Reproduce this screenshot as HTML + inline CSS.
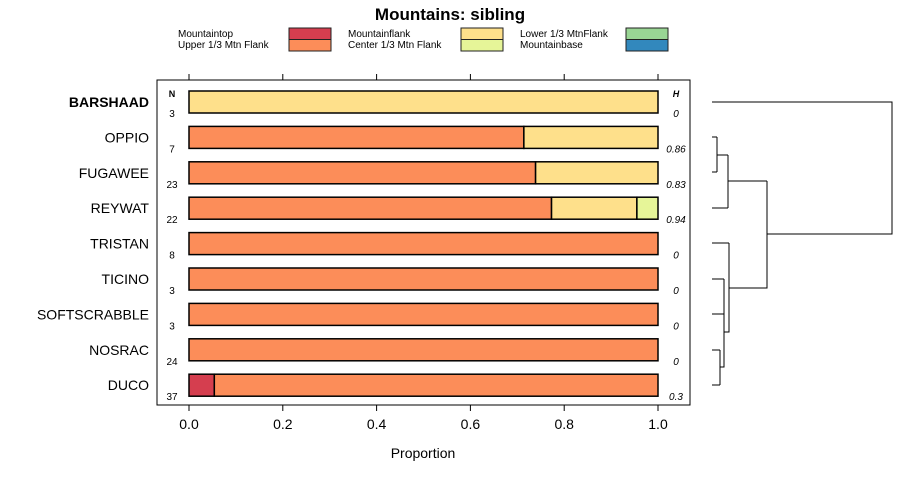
<!DOCTYPE html>
<html><head><meta charset="utf-8"><style>
body{margin:0;background:#fff}
svg text{font-family:"Liberation Sans",sans-serif}
</style></head><body>
<svg id="chart" width="900" height="480" xmlns="http://www.w3.org/2000/svg">
<text x="450" y="20" text-anchor="middle" font-size="17" font-weight="bold">Mountains: sibling</text>
<g id="legend"></g>
<rect x="157" y="80" width="533" height="325" fill="none" stroke="#000"/>
<g id="axes"></g>
<g id="bars"></g>
<g id="dendro" stroke="#000" fill="none" stroke-width="1">
<path d="M712 102H892V234H767M717 137V172M712 137H717M712 172H717M717 155H728M712 208H728M728 155V208M728 181H767M767 181V288H729M712 243H729M729 243V332H724M712 279H724M712 314H724M724 279V367H720M712 350H720M712 385H720M720 350V385"/>
</g>
<text x="423" y="458" text-anchor="middle" font-size="14">Proportion</text>
<text x="172" y="97" text-anchor="middle" font-size="9" font-weight="bold">N</text>
<text x="676" y="97" text-anchor="middle" font-size="9" font-weight="bold" font-style="italic">H</text>
</svg>
<script>
const categories=["Mountaintop","Upper 1/3 Mtn Flank","Mountainflank","Center 1/3 Mtn Flank","Lower 1/3 MtnFlank","Mountainbase"];
const colors=["#D53E4F","#FC8D59","#FEE08B","#E6F598","#99D594","#3288BD"];
const sites=["BARSHAAD","OPPIO","FUGAWEE","REYWAT","TRISTAN","TICINO","SOFTSCRABBLE","NOSRAC","DUCO"];
const nValues=[3,7,23,22,8,3,3,24,37];
const hValues=["0","0.86","0.83","0.94","0","0","0","0","0.3"];
const mountaintop=[0,0,0,0,0,0,0,0,0.054];
const upperFlank=[0,0.714,0.739,0.773,1,1,1,1,0.946];
const mountainflank=[1,0.286,0.261,0.182,0,0,0,0,0];
const centerFlank=[0,0,0,0.045,0,0,0,0,0];
const lowerFlank=[0,0,0,0,0,0,0,0,0];
const mountainbase=[0,0,0,0,0,0,0,0,0];
const ticks=[0,0.2,0.4,0.6,0.8,1.0];
const series=[mountaintop,upperFlank,mountainflank,centerFlank,lowerFlank,mountainbase];
const NS="http://www.w3.org/2000/svg";
const x=v=>189+v*469;
const y=i=>102+i*35.4;
function mk(tag,attrs,parent,txt){const e=document.createElementNS(NS,tag);for(const k in attrs)e.setAttribute(k,attrs[k]);if(txt!==undefined)e.textContent=txt;parent.appendChild(e);return e;}
const ax=document.getElementById('axes');
ticks.forEach(t=>{
 const l1=mk('line',{x1:x(t),x2:x(t),y1:405,y2:411,stroke:'#000'},ax);
 
 const l2=mk('line',{x1:x(t),x2:x(t),y1:74,y2:80,stroke:'#000'},ax);
 
 const tx=mk('text',{x:x(t),y:429,'text-anchor':'middle','font-size':14},ax,t.toFixed(1));
 
});
const bg=document.getElementById('bars');
sites.forEach((s,i)=>{
 const cy=y(i);let acc=0;
 series.forEach((ser,k)=>{const v=ser[i];if(v>0){
  const r=mk('rect',{x:x(acc),y:cy-11,width:x(acc+v)-x(acc),height:22,fill:colors[k],stroke:'#000','stroke-width':1.5},bg);
  
  acc+=v;}});
 const lab=mk('text',{x:149,y:cy+5,'text-anchor':'end','font-size':14,'font-weight':i===0?'bold':'normal'},bg,s);
 
 const n=mk('text',{x:172,y:cy+15,'text-anchor':'middle','font-size':10},bg,nValues[i]);
 
 const h=mk('text',{x:676,y:cy+15,'text-anchor':'middle','font-size':10,'font-style':'italic'},bg,hValues[i]);
 
});
const lg=document.getElementById('legend');
const colX=[178,348,520],swX=[289,461,626];
categories.forEach((c,k)=>{
 const col=Math.floor(k/2),row=k%2;
 const t=mk('text',{x:colX[col],y:37+row*11,'font-size':10},lg,c);
 
 const r=mk('rect',{x:swX[col],y:28+row*11.5,width:42,height:11.5,fill:colors[k],stroke:'#222'},lg);
 
});
</script>
</body></html>
